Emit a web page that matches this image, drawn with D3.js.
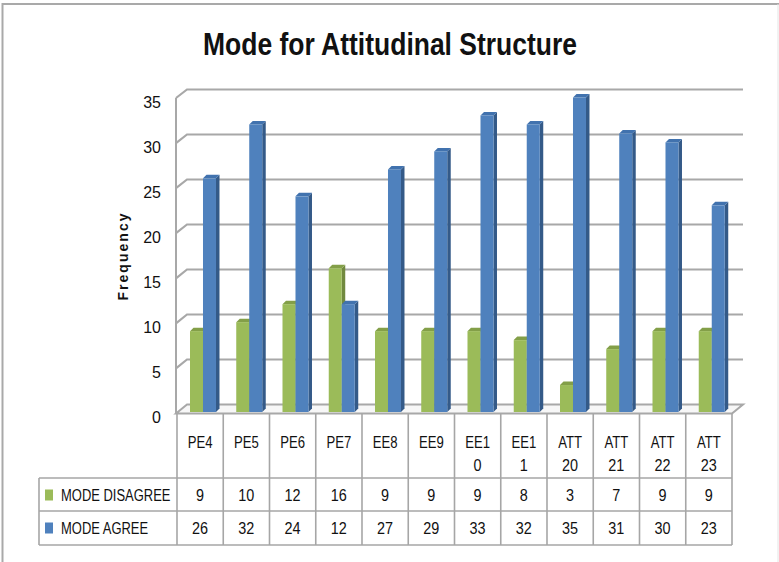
<!DOCTYPE html>
<html>
<head>
<meta charset="utf-8">
<script src="https://cdn.jsdelivr.net/npm/d3@7"></script>
<style>
  html, body { margin: 0; padding: 0; background: #fff; }
  svg { display: block; }
  text { font-family: "Liberation Sans", Arial, sans-serif; fill: #111; }
</style>
</head>
<body>
<svg id="chart" width="779" height="562"></svg>
<script>
// ---------- data ----------
const title = "Mode for Attitudinal Structure";
const yTitle = "Frequency";
const categories = ["PE4", "PE5", "PE6", "PE7", "EE8", "EE9", "EE10", "EE11", "ATT20", "ATT21", "ATT22", "ATT23"];
const categoryLines = [["PE4"], ["PE5"], ["PE6"], ["PE7"], ["EE8"], ["EE9"], ["EE1", "0"], ["EE1", "1"], ["ATT", "20"], ["ATT", "21"], ["ATT", "22"], ["ATT", "23"]];
const seriesNames = ["MODE DISAGREE", "MODE AGREE"];
const modeDisagree = [9, 10, 12, 16, 9, 9, 9, 8, 3, 7, 9, 9];
const modeAgree = [26, 32, 24, 12, 27, 29, 33, 32, 35, 31, 30, 23];
const yTicks = [0, 5, 10, 15, 20, 25, 30, 35];

const seriesValues = [modeDisagree, modeAgree];
const seriesColors = [
  { front: "#9BBB59", side: "#71893F", top: "#839F48" },
  { front: "#4F81BD", side: "#345A88", top: "#4172AE" }
];

// ---------- layout ----------
const svg = d3.select("#chart");
const gridColor = "#a8a8a8";
const tableColor = "#a6a6a6";

const plotLeft = 177, plotRight = 732;          // front edge of floor / table columns
const depth = { dx: 11, dy: -9 };               // chart depth offset (front -> back wall)
const barDepth = 3.5;

const x = d3.scaleBand().domain(categories).range([plotLeft, plotRight]).padding(0);
const bw = x.bandwidth();
const xs = d3.scaleBand().domain(seriesNames).range([bw * 0.281, bw * 0.843]).padding(0);

const yFront = d3.scaleLinear().domain([0, 35]).range([413.5, 98]);
const yBack = d3.scaleLinear().domain([0, 35]).range([404.5, 89.5]);
const yBar = d3.scaleLinear().domain([0, 35]).range([412, 97.5]);

function squeeze(sel, f) {
  sel.each(function () {
    const L = this.getComputedTextLength();
    d3.select(this).attr("textLength", L * f).attr("lengthAdjust", "spacingAndGlyphs");
  });
}

// outer frame
svg.append("path")
  .attr("d", "M2.5,562 L2.5,4 L779,4")
  .attr("fill", "none").attr("stroke", "#a9a9a9").attr("stroke-width", 2);
svg.append("line").attr("x1", 778).attr("x2", 778).attr("y1", 4).attr("y2", 562)
  .attr("stroke", "#e4e4e4").attr("stroke-width", 1);

// title
svg.append("text")
  .attr("x", 390).attr("y", 55)
  .attr("text-anchor", "middle")
  .style("font-size", "32px").style("font-weight", "bold")
  .text(title)
  .attr("textLength", 374).attr("lengthAdjust", "spacingAndGlyphs");

// y axis title
svg.append("text")
  .attr("transform", "translate(128,257) rotate(-90)")
  .attr("text-anchor", "middle")
  .style("font-size", "14px").style("font-weight", "bold")
  .text(yTitle)
  .attr("textLength", 87).attr("lengthAdjust", "spacing");

// gridlines (side wall diagonal + back wall horizontal)
const grid = svg.append("g");
const frontLeft = plotLeft - 1;
yTicks.filter(v => v > 0).forEach(v => {
  grid.append("path")
    .attr("d", `M${frontLeft},${yFront(v)} L${frontLeft + depth.dx},${yBack(v)} L743,${yBack(v)}`)
    .attr("fill", "none").attr("stroke", gridColor).attr("stroke-width", 2.2);
});
// left wall front edge
grid.append("line")
  .attr("x1", frontLeft).attr("x2", frontLeft)
  .attr("y1", yFront(35)).attr("y2", yFront(0))
  .attr("stroke", gridColor).attr("stroke-width", 2);
// floor
grid.append("path")
  .attr("d", `M${frontLeft},${yFront(0)} L${frontLeft + depth.dx},${yBack(0)} L743,${yBack(0)} L${plotRight},${yFront(0)} Z`)
  .attr("fill", "#f7f7f7").attr("stroke", gridColor).attr("stroke-width", 2);

// tick labels
svg.append("g").selectAll("text").data(yTicks).join("text")
  .attr("x", 161).attr("y", d => yFront(d) + 4)
  .attr("dy", "0.35em")
  .attr("text-anchor", "end")
  .style("font-size", "16px")
  .text(d => d);

// bars
const bars = svg.append("g");
categories.forEach((cat, i) => {
  seriesNames.forEach((s, si) => {
    const v = seriesValues[si][i];
    const x0 = x(cat) + xs(s);
    const w = xs.bandwidth();
    const yt = yBar(v), yb = yBar(0);
    const c = seriesColors[si];
    const g = bars.append("g");
    g.append("path")
      .attr("d", `M${x0 + w},${yt} L${x0 + w + barDepth},${yt - barDepth} L${x0 + w + barDepth},${yb - barDepth} L${x0 + w},${yb} Z`)
      .attr("fill", c.side);
    g.append("path")
      .attr("d", `M${x0},${yt} L${x0 + w},${yt} L${x0 + w + barDepth},${yt - barDepth} L${x0 + barDepth},${yt - barDepth} Z`)
      .attr("fill", c.top);
    g.append("rect")
      .attr("x", x0).attr("y", yt)
      .attr("width", w).attr("height", yb - yt)
      .attr("fill", c.front);
  });
});

// ---------- data table ----------
const tbl = svg.append("g");
const headTop = yFront(0), headBottom = 478, row1Bottom = 511, row2Bottom = 545;
const legendLeft = 39;

// horizontal lines
[headBottom, row1Bottom, row2Bottom].forEach(yy => {
  tbl.append("line").attr("x1", legendLeft).attr("x2", plotRight).attr("y1", yy).attr("y2", yy)
    .attr("stroke", tableColor).attr("stroke-width", 1.6);
});
// vertical lines
const colEdges = categories.map(c => x(c)).concat([plotRight]);
colEdges.forEach(xx => {
  tbl.append("line").attr("x1", xx).attr("x2", xx).attr("y1", headTop).attr("y2", row2Bottom)
    .attr("stroke", tableColor).attr("stroke-width", 1.6);
});
tbl.append("line").attr("x1", legendLeft).attr("x2", legendLeft).attr("y1", headBottom).attr("y2", row2Bottom)
  .attr("stroke", tableColor).attr("stroke-width", 1.6);

// category labels
categories.forEach((cat, i) => {
  const lines = categoryLines[i];
  lines.forEach((ln, li) => {
    const t = tbl.append("text")
      .attr("x", x(cat) + bw / 2).attr("y", 442 + li * 23)
      .attr("dy", "0.35em").attr("text-anchor", "middle")
      .style("font-size", "16px")
      .text(ln);
    squeeze(t, /^\d+$/.test(ln) ? 0.9 : 0.82);
  });
});

// value rows
const rowCenters = [495, 528];
seriesNames.forEach((s, si) => {
  const cy = rowCenters[si];
  tbl.append("rect")
    .attr("x", 45).attr("y", cy - 5.5).attr("width", 8).attr("height", 11)
    .attr("fill", seriesColors[si].front);
  const lt = tbl.append("text")
    .attr("x", 61).attr("y", cy).attr("dy", "0.35em")
    .style("font-size", "16px")
    .text(s);
  squeeze(lt, 0.81);
  categories.forEach((cat, i) => {
    const t = tbl.append("text")
      .attr("x", x(cat) + bw / 2).attr("y", cy).attr("dy", "0.35em")
      .attr("text-anchor", "middle")
      .style("font-size", "16px")
      .text(seriesValues[si][i]);
    squeeze(t, 0.9);
  });
});
</script>
</body>
</html>
